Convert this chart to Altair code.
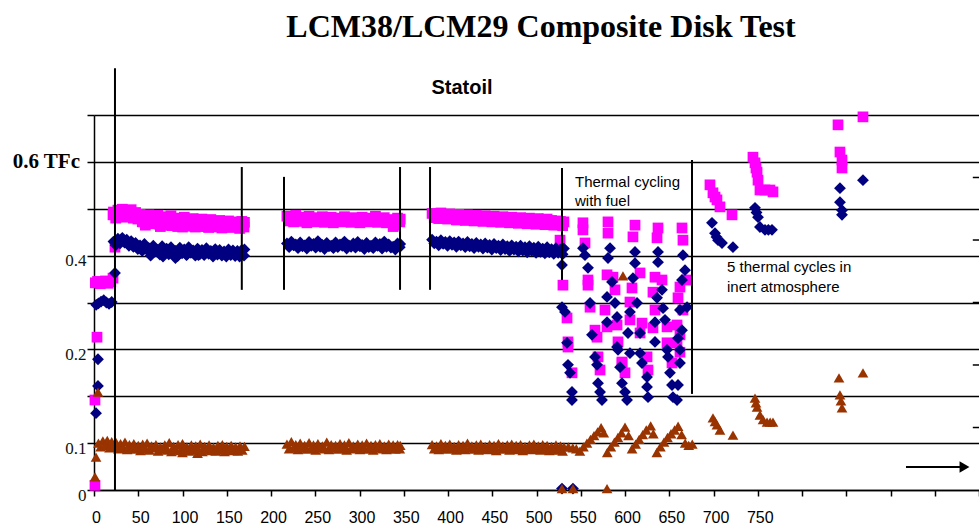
import altair as alt
import pandas as pd

# ---------------- data (x: test time, y: chart gridline units 0..8) ----------------
# magenta squares
pink_init_x = [1.1, 1.1, 3.4, 1.5, 4, 7, 10, 13, 16, 19, 21.5, 21.5, 23.7]
pink_init_y = [0.10, 1.92, 3.26, 4.42, 4.45, 4.40, 4.43, 4.46, 4.41, 4.44, 4.52, 5.87, 5.18]
pink_p1_x = [22, 27, 32, 37, 42, 47, 52, 57, 62, 67, 72, 77, 82, 87, 92, 97, 102, 107, 112, 117,
             122, 127, 132, 137, 142, 147, 152, 157, 162, 167, 170, 58, 75, 88, 100, 113, 128]
pink_p1_y = [5.93, 5.97, 5.99, 5.95, 5.98, 5.92, 5.88, 5.84, 5.87, 5.80, 5.86, 5.83, 5.79, 5.85, 5.80,
             5.78, 5.82, 5.76, 5.79, 5.75, 5.78, 5.74, 5.77, 5.73, 5.75, 5.71, 5.74, 5.72, 5.70, 5.73,
             5.71, 5.65, 5.62, 5.64, 5.61, 5.63, 5.62]
p1b_x = [24.5, 29.5, 34.5, 39.5, 44.5, 49.5, 54.5, 59.5, 64.5, 69.5, 74.5, 79.5, 84.5, 89.5, 94.5,
         99.5, 104.5, 109.5, 114.5, 119.5, 124.5, 129.5, 134.5, 139.5, 144.5, 149.5, 154.5, 159.5,
         164.5, 169.5]
pink_p1b_y = [5.80, 5.84, 5.82, 5.86, 5.80, 5.78, 5.72, 5.75, 5.68, 5.74, 5.66, 5.71, 5.65, 5.70,
              5.62, 5.68, 5.63, 5.66, 5.61, 5.65, 5.62, 5.60, 5.64, 5.61, 5.59, 5.63, 5.60, 5.62,
              5.58, 5.61]
p2_x = [218, 223, 228, 233, 238, 243, 248, 253, 258, 263, 268, 273, 278, 283, 288, 293, 298, 303,
        308, 313, 318, 323, 328, 333, 338, 343, 346]
pink_p2_y = [5.84, 5.80, 5.86, 5.82, 5.78, 5.84, 5.81, 5.79, 5.83, 5.78, 5.82, 5.80, 5.77, 5.83,
             5.79, 5.81, 5.77, 5.82, 5.80, 5.78, 5.84, 5.79, 5.81, 5.77, 5.62, 5.80, 5.78]
p2b_x = [220.5, 225.5, 230.5, 235.5, 240.5, 245.5, 250.5, 255.5, 260.5, 265.5, 270.5, 275.5, 280.5,
         285.5, 290.5, 295.5, 300.5, 305.5, 310.5, 315.5, 320.5, 325.5, 330.5, 335.5, 340.5, 345.5]
pink_p2b_y = [5.74, 5.72, 5.76, 5.73, 5.70, 5.75, 5.72, 5.74, 5.71, 5.73, 5.70, 5.75, 5.72, 5.74,
              5.71, 5.73, 5.70, 5.74, 5.72, 5.75, 5.71, 5.73, 5.70, 5.74, 5.65, 5.72]
p3_x = [382, 387, 392, 397, 402, 407, 412, 417, 422, 427, 432, 437, 442, 447, 452, 457, 462, 467,
        472, 477, 482, 487, 492, 497, 502, 507, 512, 517, 522, 527, 531]
pink_p3_y = [5.90, 5.88, 5.91, 5.87, 5.89, 5.86, 5.88, 5.85, 5.87, 5.84, 5.86, 5.83, 5.85, 5.82,
             5.84, 5.81, 5.83, 5.80, 5.82, 5.79, 5.81, 5.78, 5.80, 5.77, 5.79, 5.76, 5.78, 5.75,
             5.74, 5.73, 5.72]
p3b_x = [384.5, 389.5, 394.5, 399.5, 404.5, 409.5, 414.5, 419.5, 424.5, 429.5, 434.5, 439.5, 444.5,
         449.5, 454.5, 459.5, 464.5, 469.5, 474.5, 479.5, 484.5, 489.5, 494.5, 499.5, 504.5, 509.5,
         514.5, 519.5, 524.5, 529.5]
pink_p3b_y = [5.81, 5.79, 5.80, 5.78, 5.79, 5.76, 5.78, 5.75, 5.77, 5.74, 5.76, 5.73, 5.75, 5.72,
              5.74, 5.71, 5.73, 5.70, 5.72, 5.69, 5.71, 5.68, 5.70, 5.67, 5.69, 5.66, 5.68, 5.65,
              5.66, 5.64]
pink_cyc_x = [526.6, 529.9, 534.5, 535.6, 535.6, 540.1,
              552.5, 552.5, 554.8, 558.2, 558.2, 560.5, 566.1, 568.4, 569.5, 571.8,
              580.8, 580.8, 579.7, 586.4, 588.7, 577.4, 591.0, 579.7, 592.1, 596.6, 600.0,
              611.3, 609.0, 607.9, 617.0, 605.6, 605.6, 619.2, 617.0, 596.6, 624.9, 626.0,
              637.3, 636.2, 633.9, 641.8, 631.6, 633.9, 631.6, 647.5, 647.5, 653.1,
              664.4, 665.5, 670.1, 662.1, 659.9, 665.5, 658.8, 662.1, 658.8, 662.1]
pink_cyc_y = [5.33, 4.37, 3.67, 3.16, 3.05, 2.50,
              5.70, 5.55, 5.27, 4.48, 4.37, 3.90, 3.41, 3.26, 2.84, 2.56,
              5.72, 5.48, 4.59, 4.54, 4.27, 3.84, 3.52, 3.48, 3.16, 2.73, 2.50,
              5.65, 5.40, 4.31, 4.63, 4.01, 3.63, 3.56, 3.35, 2.71, 2.84, 2.56,
              5.59, 5.38, 4.54, 4.48, 4.22, 3.84, 3.46, 3.48, 3.14, 2.71,
              5.59, 5.33, 4.48, 4.33, 4.10, 3.84, 3.52, 3.31, 3.14, 2.94]
pink_inert_x = [696.0, 699.4, 701.7, 703.9, 707.3, 720.9, 744.6, 746.9, 748.0, 749.2, 750.3, 752.5,
                758.2, 763.8, 767.2, 840.7, 842.9, 845.2, 845.2, 868.9]
pink_inert_y = [6.51, 6.34, 6.25, 6.19, 6.04, 5.87, 7.10, 6.98, 6.87, 6.78, 6.61, 6.40,
                6.40, 6.40, 6.36, 7.79, 7.21, 7.04, 6.87, 7.96]

# navy diamonds
navy_init_x = [2.3, 4.5, 4.5, 2.5, 5, 8, 11, 14, 17, 20, 23.7]
navy_init_y = [1.64, 2.22, 2.79, 3.95, 3.98, 4.02, 4.05, 4.00, 3.97, 4.01, 4.63]
navy_p1_x = [22, 27, 32, 37, 42, 47, 52, 57, 62, 67, 72, 77, 82, 87, 92, 97, 102, 107, 112, 117,
             122, 127, 132, 137, 142, 147, 152, 157, 162, 167, 170, 64, 78, 92, 105, 118]
navy_p1_y = [5.30, 5.36, 5.38, 5.34, 5.31, 5.27, 5.22, 5.25, 5.16, 5.21, 5.12, 5.20, 5.15, 5.18,
             5.10, 5.17, 5.13, 5.18, 5.11, 5.15, 5.12, 5.16, 5.10, 5.14, 5.12, 5.09, 5.13, 5.11,
             5.10, 5.12, 5.13, 5.00, 4.98, 4.95, 5.02, 5.01]
navy_p1b_y = [5.22, 5.26, 5.28, 5.21, 5.19, 5.14, 5.10, 5.13, 5.04, 5.09, 5.02, 5.08, 5.03, 5.06,
              4.99, 5.05, 5.01, 5.06, 5.00, 5.03, 5.01, 5.04, 4.98, 5.02, 5.00, 4.98, 5.01, 4.99,
              4.98, 5.00]
navy_p2_y = [5.26, 5.30, 5.24, 5.28, 5.22, 5.29, 5.25, 5.31, 5.23, 5.27, 5.21, 5.28, 5.24, 5.30,
             5.22, 5.26, 5.29, 5.23, 5.27, 5.21, 5.28, 5.25, 5.30, 5.24, 5.19, 5.26, 5.25]
navy_p2b_y = [5.18, 5.22, 5.16, 5.20, 5.15, 5.21, 5.17, 5.19, 5.14, 5.20, 5.16, 5.18, 5.21, 5.15,
              5.19, 5.17, 5.20, 5.14, 5.18, 5.16, 5.21, 5.15, 5.19, 5.17, 5.13, 5.18]
navy_p3_y = [5.34, 5.30, 5.33, 5.29, 5.31, 5.28, 5.30, 5.26, 5.29, 5.25, 5.27, 5.24, 5.26, 5.23,
             5.25, 5.21, 5.24, 5.20, 5.22, 5.19, 5.21, 5.18, 5.20, 5.17, 5.19, 5.15, 5.18, 5.14,
             5.16, 5.13, 5.15]
navy_p3b_y = [5.26, 5.22, 5.25, 5.21, 5.23, 5.19, 5.22, 5.18, 5.20, 5.16, 5.19, 5.15, 5.17, 5.13,
              5.16, 5.12, 5.14, 5.10, 5.13, 5.09, 5.11, 5.07, 5.10, 5.06, 5.08, 5.05, 5.07, 5.04,
              5.06, 5.03]
navy_cyc_x = [528.8, 528.8, 532.2, 534.5, 535.6, 537.9, 540.1, 540.1,
              552.5, 554.8, 558.2, 560.5, 562.7, 566.1, 568.4, 569.5, 571.8, 574.0,
              583.1, 580.8, 585.3, 579.7, 588.7, 591.0, 579.7, 591.0, 592.1, 594.4, 596.6, 600.0, 602.3,
              611.3, 611.3, 609.0, 613.6, 605.6, 603.4, 617.0, 605.6, 617.0, 619.2, 624.9, 624.9, 626.0,
              637.3, 637.3, 641.8, 636.2, 643.0, 633.9, 645.2, 633.9, 647.5, 648.6, 650.8, 653.1, 654.2,
              665.5, 667.8, 664.4, 670.1, 662.1, 664.4, 659.9, 662.1, 662.1, 659.9, 658.8,
              528.8, 541.2]
navy_cyc_y = [4.80, 3.90, 3.80, 3.14, 2.67, 2.50, 2.09, 1.92,
              5.16, 5.01, 4.74, 3.99, 3.31, 2.84, 2.67, 2.28, 2.09, 1.92,
              5.16, 4.95, 4.44, 4.12, 3.99, 3.69, 3.58, 3.05, 2.99, 2.62, 2.28, 2.09, 1.92,
              5.08, 4.84, 4.52, 3.99, 3.80, 3.35, 3.35, 2.92, 2.92, 2.71, 2.41, 2.20, 1.98,
              5.08, 4.86, 4.27, 4.10, 3.88, 3.58, 3.63, 3.16, 2.99, 2.84, 2.50, 2.24, 1.98,
              5.01, 4.69, 4.48, 3.90, 3.84, 3.41, 3.24, 2.99, 2.71, 2.24, 1.92,
              0.03, 0.03]
navy_inert_x = [698.3, 701.7, 703.4, 705.1, 709.6, 722.0, 746.9, 748.6, 750.3, 752.5, 758.2, 762.0,
                766.1, 842.9, 842.9, 845.2, 845.2, 868.9]
navy_inert_y = [5.70, 5.48, 5.40, 5.33, 5.27, 5.18, 6.02, 5.92, 5.82, 5.61, 5.55, 5.55,
                5.55, 6.44, 6.14, 5.97, 5.87, 6.61]

# brown triangles
brown_init_x = [1.1, 2.3, 4.5]
brown_init_y = [0.28, 0.70, 2.09]
brown_p1_x = [5, 10, 15, 20, 25, 30, 35, 40, 45, 50, 55, 60, 65, 70, 75, 80, 85, 90, 95, 100, 105,
              110, 115, 120, 125, 130, 135, 140, 145, 150, 155, 160, 165, 170, 100, 117]
brown_p1_y = [1.00, 1.05, 1.06, 1.03, 1.01, 0.99, 1.02, 0.97, 0.99, 0.95, 0.98, 1.00, 0.94, 0.97,
              0.92, 0.96, 1.01, 0.93, 0.97, 0.99, 0.92, 0.96, 0.94, 0.98, 0.93, 0.96, 0.91, 0.95,
              0.97, 0.93, 0.95, 0.92, 0.94, 0.93, 0.80, 0.78]
brown_p1b_x = [7.5, 12.5, 17.5, 22.5, 27.5, 32.5, 37.5, 42.5, 47.5, 52.5, 57.5, 62.5, 67.5, 72.5,
               77.5, 82.5, 87.5, 92.5, 97.5, 102.5, 107.5, 112.5, 117.5, 122.5, 127.5, 132.5, 137.5,
               142.5, 147.5, 152.5, 157.5, 162.5, 167.5]
brown_p1b_y = [0.92, 0.95, 0.90, 0.93, 0.88, 0.91, 0.86, 0.89, 0.87, 0.84, 0.88, 0.85, 0.90, 0.83,
               0.87, 0.85, 0.82, 0.86, 0.84, 0.88, 0.83, 0.85, 0.87, 0.82, 0.86, 0.84, 0.83, 0.86,
               0.82, 0.85, 0.84, 0.83, 0.85]
brown_p2_y = [0.98, 1.03, 0.97, 1.00, 0.95, 1.01, 0.96, 0.99, 0.94, 1.02, 0.97, 0.95, 0.99, 0.96,
              1.01, 0.94, 0.98, 0.96, 1.00, 0.95, 0.97, 0.99, 0.94, 0.98, 0.96, 0.97, 0.95]
brown_p2b_y = [0.88, 0.91, 0.86, 0.90, 0.87, 0.89, 0.85, 0.90, 0.88, 0.86, 0.91, 0.87, 0.89, 0.85,
               0.88, 0.90, 0.86, 0.89, 0.87, 0.85, 0.90, 0.88, 0.86, 0.89, 0.87, 0.88]
brown_p3_y = [0.97, 0.94, 0.99, 0.95, 0.98, 0.93, 0.97, 0.95, 1.00, 0.94, 0.96, 0.98, 0.93, 0.97,
              0.95, 0.99, 0.94, 0.96, 0.98, 0.95, 0.97, 0.93, 0.96, 0.98, 0.94, 0.97, 0.95, 0.93,
              0.96, 0.94, 0.92]
brown_p3b_y = [0.88, 0.86, 0.90, 0.87, 0.89, 0.85, 0.88, 0.86, 0.90, 0.87, 0.85, 0.89, 0.86, 0.88,
               0.84, 0.87, 0.89, 0.85, 0.88, 0.86, 0.84, 0.88, 0.86, 0.89, 0.85, 0.87, 0.84, 0.86,
               0.85, 0.83]
brown_cyc_x = [536, 541, 545, 549, 553, 557, 561, 565, 569, 573, 576, 580, 584, 588, 592, 596, 600,
               604, 608, 612, 616, 620, 624, 629, 632, 636, 640, 644, 648, 652, 656, 660, 664, 668,
               672, 676, 528.8, 541.2, 579.7, 597.7]
brown_cyc_y = [0.92, 0.90, 0.88, 0.83, 0.92, 1.00, 1.08, 1.16, 1.24, 1.33, 1.22, 0.80, 0.92, 1.02,
               1.12, 1.22, 1.34, 1.16, 0.88, 0.98, 1.08, 1.18, 1.28, 1.37, 1.20, 0.80, 0.92, 1.02,
               1.12, 1.20, 1.28, 1.36, 1.18, 1.00, 0.95, 0.98, 0.03, 0.03, 0.03, 4.57]
brown_inert_x = [699.4, 701.7, 703.9, 707.3, 722.0, 746.9, 748.0, 749.2, 752.5, 756.0, 760.5, 764.0,
                 767.2, 841.8, 842.9, 844.0, 845.2, 868.9]
brown_inert_y = [1.54, 1.46, 1.39, 1.28, 1.17, 1.96, 1.86, 1.77, 1.60, 1.50, 1.45, 1.45,
                 1.45, 2.39, 2.03, 1.90, 1.75, 2.50]

# axes
x_tick_values = [0, 50, 100, 150, 200, 250, 300, 350, 400, 450, 500, 550, 600, 650, 700, 750,
                 800, 850, 900, 950, 1000]
x_last_label = 750
y_levels = [0, 1, 2, 3, 4, 5, 6, 7, 8]
y_label_levels = [0, 1, 3, 5]
y_label_texts = ["0", "0.1", "0.2", "0.4"]
right_tick_levels = [1.333, 2.667, 4.0, 5.333, 6.667]

# separators (x, bottom, top)
sep_x = [23.7, 167, 214.7, 345.8, 379.7, 528.8, 675.7]
sep_y = [0.0, 4.27, 4.27, 4.27, 4.27, 4.48, 2.05]
sep_y2 = [9.0, 6.89, 6.68, 6.89, 6.89, 6.87, 7.04]

# annotations
title_text = "LCM38/LCM29 Composite Disk Test"
notes_text = ["Thermal cycling", "with fuel", "5 thermal cycles in", "inert atmosphere"]
notes_x = [543.5, 543.5, 715.3, 715.3]
notes_y = [6.46, 6.06, 4.65, 4.22]

# ---------------- frames ----------------
pink = pd.DataFrame({
    "x": pink_init_x + pink_p1_x + p1b_x + p2_x + p2b_x + p3_x + p3b_x + pink_cyc_x + pink_inert_x,
    "y": pink_init_y + pink_p1_y + pink_p1b_y + pink_p2_y + pink_p2b_y + pink_p3_y + pink_p3b_y
         + pink_cyc_y + pink_inert_y,
})
navy = pd.DataFrame({
    "x": navy_init_x + navy_p1_x + p1b_x + p2_x + p2b_x + p3_x + p3b_x + navy_cyc_x + navy_inert_x,
    "y": navy_init_y + navy_p1_y + navy_p1b_y + navy_p2_y + navy_p2b_y + navy_p3_y + navy_p3b_y
         + navy_cyc_y + navy_inert_y,
})
brown = pd.DataFrame({
    "x": brown_init_x + brown_p1_x + brown_p1b_x + p2_x + p2b_x + p3_x + p3b_x + brown_cyc_x
         + brown_inert_x,
    "y": brown_init_y + brown_p1_y + brown_p1b_y + brown_p2_y + brown_p2b_y + brown_p3_y
         + brown_p3b_y + brown_cyc_y + brown_inert_y,
})

y_expr = " : ".join(
    f"datum.value == {lv} ? '{tx}'" for lv, tx in zip(y_label_levels, y_label_texts)
) + " : ''"

xscale = alt.Scale(domain=[0, 1000], nice=False, zero=False)
yscale = alt.Scale(domain=[0, 8], nice=False, zero=False)

X = alt.X("x:Q", scale=xscale, axis=alt.Axis(
    values=x_tick_values, labelExpr=f"datum.value <= {x_last_label} ? datum.label : ''",
    grid=False, title=None, domainColor="black", domainWidth=1.5, tickColor="black",
    tickSize=6, tickWidth=1.5, labelFont="Liberation Sans", labelFontSize=16,
    labelColor="black", labelPadding=13, labelOffset=2, labelOverlap=False, labelFlush=False,
    format="d"))
Y = alt.Y("y:Q", scale=yscale, axis=alt.Axis(
    values=y_levels, labelExpr=y_expr, grid=True, gridColor="black", gridWidth=1.5,
    title=None, domainColor="black", domainWidth=1.5, tickColor="black", tickSize=7,
    tickWidth=1.5, labelFont="Liberation Serif", labelFontSize=17, labelColor="#111",
    labelPadding=1, labelOffset=5, labelOverlap=False, labelFlush=False))

pink_layer = alt.Chart(pink).mark_point(shape="square", filled=True, color="#FF00FF",
                                        size=115, opacity=1).encode(x=X, y=Y)
navy_layer = alt.Chart(navy).mark_point(shape="diamond", filled=True, color="#000080",
                                        size=140, opacity=1).encode(x=X, y=Y)
brown_layer = alt.Chart(brown).mark_point(shape="triangle-up", filled=True, color="#993300",
                                          size=115, opacity=1).encode(x=X, y=Y)

seps = alt.Chart(pd.DataFrame({"x": sep_x, "y": sep_y, "y2": sep_y2})).mark_rule(
    color="black", strokeWidth=2).encode(x=X, y=Y, y2="y2:Q")

rticks = alt.Chart(pd.DataFrame({"y": right_tick_levels, "x": [993] * 5, "x2": [1000] * 5})
                   ).mark_rule(color="black", strokeWidth=1.5).encode(x=X, x2="x2:Q", y=Y)

arrow_line = alt.Chart(pd.DataFrame({"x": [917.5], "x2": [978.5], "y": [0.49]})).mark_rule(
    color="black", strokeWidth=2).encode(x=X, x2="x2:Q", y=Y)
arrow_head = alt.Chart(pd.DataFrame({"x": [983.6], "y": [0.49]})).mark_point(
    shape="triangle-right", filled=True, color="black", size=130, opacity=1).encode(x=X, y=Y)

title = alt.Chart(pd.DataFrame({"x": [505.1], "y": [9.66], "t": [title_text]})).mark_text(
    font="Liberation Serif", fontSize=32, fontWeight="bold", color="black",
    align="center", baseline="alphabetic").encode(x=X, y=Y, text="t:N")
statoil = alt.Chart(pd.DataFrame({"x": [415.8], "y": [8.58], "t": ["Statoil"]})).mark_text(
    font="Liberation Sans", fontSize=20, fontWeight="bold", color="black",
    align="center", baseline="middle").encode(x=X, y=Y, text="t:N")
tfc = alt.Chart(pd.DataFrame({"x": [-15.8], "y": [7.0], "t": ["0.6 TFc"]})).mark_text(
    font="Liberation Serif", fontSize=21, fontWeight="bold", color="black",
    align="right", baseline="middle").encode(x=X, y=Y, text="t:N")
notes = alt.Chart(pd.DataFrame({"x": notes_x, "y": notes_y, "t": notes_text})).mark_text(
    font="Liberation Sans", fontSize=15, color="black", align="left",
    baseline="alphabetic").encode(x=X, y=Y, text="t:N")

chart = alt.layer(
    pink_layer, navy_layer, brown_layer, seps, rticks, arrow_line, arrow_head,
    title, statoil, tfc, notes
).properties(
    width=885, height=375, autosize="none",
    padding={"left": 94, "top": 115, "right": 0, "bottom": 37},
    background="white",
).configure_view(stroke=None)

chart.save("out.html", embed_options={"renderer": "svg", "actions": False})
